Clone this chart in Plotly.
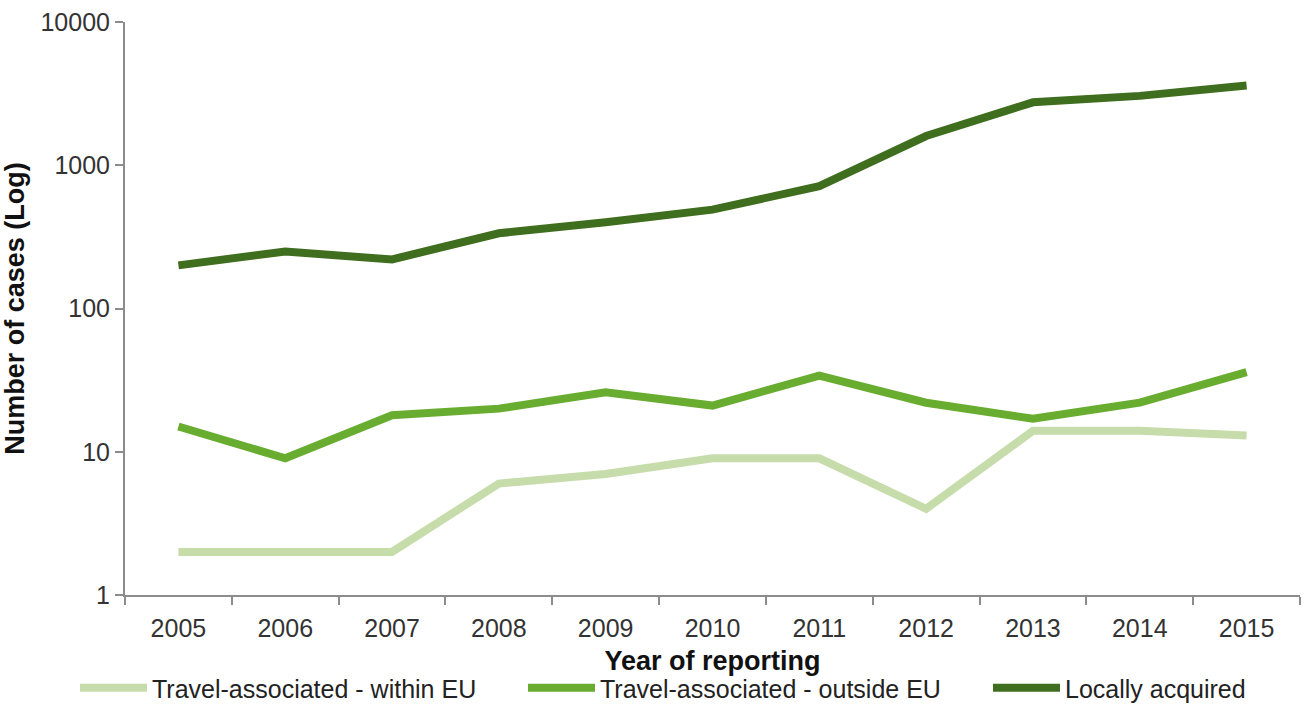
import plotly.graph_objects as go

years = ["2005", "2006", "2007", "2008", "2009", "2010", "2011", "2012", "2013", "2014", "2015"]
within_eu = [2, 2, 2, 6, 7, 9, 9, 4, 14, 14, 13]
outside_eu = [15, 9, 18, 20, 26, 21, 34, 22, 17, 22, 36]
locally_acquired = [200, 250, 220, 335, 400, 490, 715, 1600, 2750, 3050, 3600]

series_names = ["Travel-associated - within EU", "Travel-associated - outside EU", "Locally acquired"]
series_values = [within_eu, outside_eu, locally_acquired]
series_colors = ["#c6dcaa", "#68ad2f", "#3f6e1e"]
legend_ids = ["legend", "legend2", "legend3"]
legend_left_px = [75, 523, 988]

y_tickvals = [1, 10, 100, 1000, 10000]
y_ticktext = ["1", "10", "100", "1000", "10000"]

fig = go.Figure()
for name, vals, col, lg in zip(series_names, series_values, series_colors, legend_ids):
    fig.add_trace(go.Scatter(x=years, y=vals, mode="lines", name=name, legend=lg,
                             line=dict(color=col, width=8)))

axis_col = "#8c8c8c"
font_family = "Liberation Sans, Arial, sans-serif"
tick_font = dict(family=font_family, size=25, color="#333333")
plot_left, plot_width, plot_bottom, plot_height = 125, 1175, 595, 573

layout_legends = {}
for lg, px in zip(legend_ids, legend_left_px):
    layout_legends[lg] = dict(orientation="h", x=(px - plot_left) / plot_width, xanchor="left",
                              y=(plot_bottom - 688) / plot_height, yanchor="middle",
                              itemwidth=67, font=dict(family=font_family, size=25, color="#222222"),
                              bgcolor="rgba(0,0,0,0)", borderwidth=0)

fig.update_layout(
    width=1305, height=708,
    margin=dict(l=125, r=5, t=22, b=113, autoexpand=False),
    plot_bgcolor="white", paper_bgcolor="white",
    font=dict(family=font_family, size=25, color="#222222"),
    xaxis=dict(type="category", range=[-0.5, 10.5], showgrid=False, zeroline=False,
               showline=True, linecolor=axis_col, linewidth=2,
               ticks="outside", tickson="boundaries", ticklen=8, tickcolor=axis_col, tickwidth=2,
               tickfont=tick_font, ticklabelstandoff=10,
               title=dict(text="<b>Year of reporting</b>", font=dict(size=27, color="#111111"), standoff=10)),
    yaxis=dict(type="log", range=[0, 4], showgrid=False, zeroline=False,
               showline=True, linecolor=axis_col, linewidth=2,
               ticks="outside", ticklen=8, tickcolor=axis_col, tickwidth=2,
               tickvals=y_tickvals, ticktext=y_ticktext, tickfont=tick_font,
               title=dict(text="<b>Number of cases (Log)</b>", font=dict(size=27, color="#111111"), standoff=10)),
    showlegend=True,
    **layout_legends,
)

fig.write_html("out.html")
